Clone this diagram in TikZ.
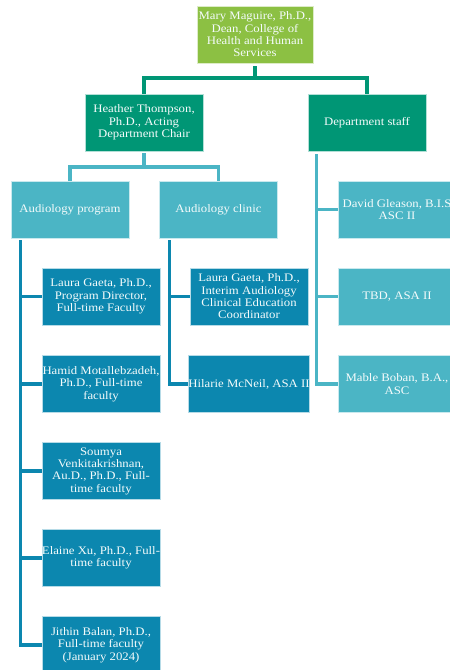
\documentclass[tikz,border=0pt]{standalone}
\usepackage{fontspec}
\setmainfont{Liberation Serif}[FakeStretch=1.11]
\definecolor{deangreen}{HTML}{8CC043}
\definecolor{chairgreen}{HTML}{009675}
\definecolor{unitblue}{HTML}{4BB5C5}
\definecolor{staffblue}{HTML}{0C87AF}
\begin{document}
\begin{tikzpicture}[x=1pt,y=-1pt,
  box/.style={rectangle,minimum width=118pt,minimum height=57pt,inner sep=0pt,
    align=center,text=white!94!unitblue,font=\fontsize{11.5}{12.3}\selectfont,
    draw=white!70!#1,line width=0.4pt,fill=#1},
  link/.style={line width=3.2pt,#1}]
\useasboundingbox (0,0) rectangle (450,670);
        \node[box=deangreen,minimum width=116pt] (dean) at (255,34.5) {Mary Maguire, Ph.D.,\\Dean, College of\\Health and Human\\Services};
        \node[box=chairgreen] (chair) at (144,122.5) {Heather Thompson,\\Ph.D., Acting\\Department Chair};
        \node[box=chairgreen] (staff) at (367,122.5) {Department staff};
        \node[box=unitblue] (prog) at (70,209.5) {Audiology program};
        \node[box=unitblue] (clinic) at (218.5,209.5) {Audiology clinic};

        % program faculty
        \foreach \y/\txt [count=\i] in {296.5/{Laura Gaeta, Ph.D.,\\Program Director,\\Full-time Faculty},
                384/{Hamid Motallebzadeh,\\Ph.D., Full-time\\faculty},
                471/{Soumya\\Venkitakrishnan,\\Au.D., Ph.D., Full-\\time faculty},
                558/{Elaine Xu, Ph.D., Full-\\time faculty},
                645/{Jithin Balan, Ph.D.,\\Full-time faculty\\(January 2024)}} {
                \node[box=staffblue] (pk\i) at (101,\y) {\txt};
                \draw[link=staffblue] ([xshift=10pt,yshift=-2pt]prog.south west) |- (pk\i.west);
		}
        % clinic
        \foreach \y/\txt [count=\i] in {296.5/{Laura Gaeta, Ph.D.,\\Interim Audiology\\Clinical Education\\Coordinator},
                384/{Hilarie McNeil, ASA II}} {
                \node[box=staffblue] (ck\i) at (249,\y) {\txt};
                \draw[link=staffblue] ([xshift=10pt,yshift=-2pt]clinic.south west) |- (ck\i.west);
		}
        % department staff
        \foreach \y/\txt [count=\i] in {209.5/{David Gleason, B.I.S\\ASC II},
                296.5/{TBD, ASA II},
                384/{Mable Boban, B.A.,\\ASC}} {
                \node[box=unitblue] (sk\i) at (397,\y) {\txt};
                \draw[link=unitblue] ([xshift=9pt,yshift=-3pt]staff.south west) |- (sk\i.west);
		}

        \coordinate (deanbar) at (255,78);
        \draw[link=chairgreen] ([yshift=-3pt]dean.south) -- (deanbar) -| (chair.north);
        \draw[link=chairgreen] (deanbar) -| (staff.north);
        \coordinate (chairbar) at (144,167);
        \draw[link=unitblue] ([yshift=-2pt]chair.south) -- (chairbar) -| (prog.north);
        \draw[link=unitblue] (chairbar) -| (clinic.north);
\end{tikzpicture}
\end{document}
